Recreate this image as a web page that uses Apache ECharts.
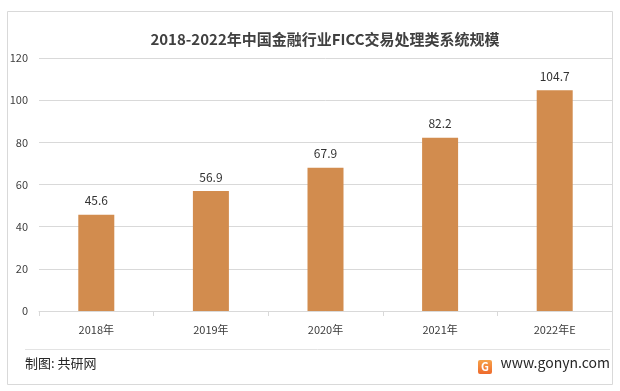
<!DOCTYPE html>
<html>
<head>
<meta charset="utf-8">
<script src="https://cdn.jsdelivr.net/npm/echarts@6/dist/echarts.min.js"></script>
<style>
html,body{margin:0;padding:0;background:#fff;}
#c{width:620px;height:391px;}
</style>
</head>
<body>
<div id="c"></div>
<script>
var title = '2018-2022年中国金融行业FICC交易处理类系统规模';
var categories = ['2018年', '2019年', '2020年', '2021年', '2022年E'];
var values = [45.6, 56.9, 67.9, 82.2, 104.7];
var yTicks = [0, 20, 40, 60, 80, 100, 120];
var source = '制图: 共研网';
var site = 'www.gonyn.com';

var FONT = '"Noto Sans CJK SC", "Noto Sans", sans-serif';
var chart = echarts.init(document.getElementById('c'), null, {renderer: 'canvas'});
chart.setOption({
  backgroundColor: '#ffffff',
  animation: false,
  title: {
    text: title,
    left: 320,
    textAlign: 'center',
    top: 27,
    textStyle: {fontFamily: FONT, fontSize: 15, fontWeight: 'bold', color: '#404040'}
  },
  grid: {left: 39, right: 8, top: 58, bottom: 80},
  xAxis: {
    type: 'category',
    data: categories,
    axisLine: {lineStyle: {color: '#D9D9D9'}},
    axisTick: {show: true, length: 5, lineStyle: {color: '#D9D9D9'}},
    axisLabel: {fontFamily: FONT, fontSize: 11, color: '#3A3A3A', margin: 13}
  },
  yAxis: {
    type: 'value',
    min: yTicks[0],
    max: yTicks[yTicks.length - 1],
    interval: yTicks[1] - yTicks[0],
    axisLine: {show: false},
    axisTick: {show: false},
    splitLine: {lineStyle: {color: '#D9D9D9'}},
    axisLabel: {fontFamily: FONT, fontSize: 11, color: '#404040', margin: 11}
  },
  series: [{
    type: 'bar',
    data: values,
    barWidth: 36,
    itemStyle: {color: '#D28C4E'},
    label: {
      show: true,
      position: 'top',
      distance: 8,
      fontFamily: FONT,
      fontSize: 12,
      color: '#333333'
    }
  }],
  graphic: [
    {type: 'rect', shape: {x: 7.5, y: 11.5, width: 605, height: 373}, style: {fill: 'none', stroke: '#D9D9D9', lineWidth: 1}, silent: true, z: -1},
    {type: 'line', shape: {x1: 25, y1: 349.5, x2: 610, y2: 349.5}, style: {stroke: '#E3E3E3', lineWidth: 1}},
    {type: 'text', left: 25, top: 357, style: {text: source, fontFamily: FONT, fontSize: 13, fill: '#262626'}},
    {type: 'rect', shape: {x: 478, y: 360, width: 14, height: 14, r: 2}, style: {fill: new echarts.graphic.LinearGradient(0,0,0,1,[{offset:0,color:'#F6A24A'},{offset:1,color:'#EE6A2C'}])}},
    {type: 'text', x: 485, y: 367, style: {text: 'G', fontFamily: FONT, fontSize: 11, fontWeight: 'bold', fill: '#ffffff', align: 'center', verticalAlign: 'middle'}},
    {type: 'text', right: 10, top: 356, style: {text: site, fontFamily: FONT, fontSize: 14, fill: '#262626'}}
  ]
});
</script>
</body>
</html>
